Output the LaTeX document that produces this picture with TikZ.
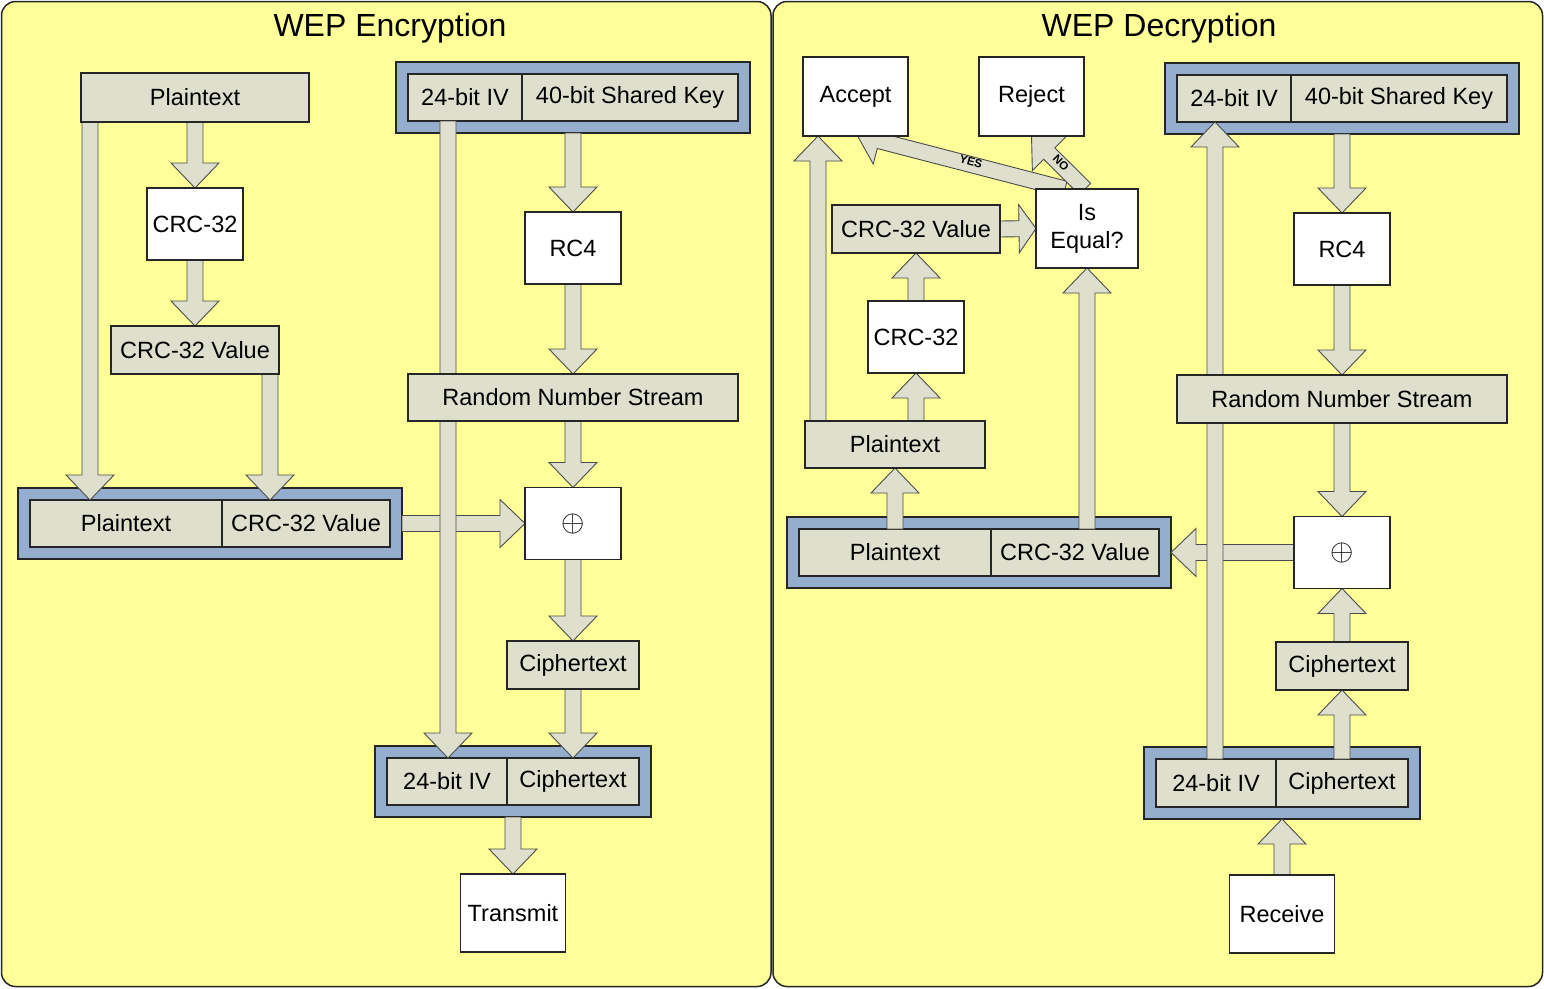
\documentclass[tikz,border=0pt]{standalone}
\usepackage{fontspec}
\usepackage{graphicx}
\setmainfont{Liberation Sans}
\usetikzlibrary{calc}
\definecolor{bgy}{RGB}{255,255,153}
\definecolor{beige}{RGB}{223,223,206}
\definecolor{frameblue}{RGB}{149,174,205}
\tikzset{
 box/.style={draw=black!85, line width=1.1pt, fill=beige, inner sep=0pt, outer sep=0pt, font=\fontsize{23.5}{28}\selectfont},
 wbox/.style={box, fill=white},
 fbox/.style={draw=black!85, line width=1.1pt, fill=frameblue, inner sep=0pt, outer sep=0pt},
 sz/.style 2 args={minimum width=#1pt, minimum height=#2pt},
 arr/.style={draw=black!70, line width=0.9pt, fill=beige, line join=miter},
 panel/.style={draw=black!85, line width=1.5pt, fill=bgy, rounded corners=14pt},
 ttl/.style={font=\fontsize{32}{38}\selectfont},
 lbl/.style={font=\bfseries\fontsize{11.5}{13}\selectfont, inner sep=0pt}
}
\newcommand\xorsign{{\fontsize{10}{12}\selectfont\scalebox{3}{$\oplus$}}}
\newcommand\barrow[3][25pt]{%
 \coordinate (bas) at (#2);
 \coordinate (bae) at (#3);
 \coordinate (bah) at ($(bae)!#1!(bas)$);
 \draw[arr] ($(bas)!8pt!90:(bae)$) -- ($(bah)!8pt!90:(bae)$) -- ($(bah)!24pt!90:(bae)$) -- (bae)
   -- ($(bah)!24pt!-90:(bae)$) -- ($(bah)!8pt!-90:(bae)$) -- ($(bas)!8pt!-90:(bae)$) -- cycle;}
\begin{document}
\begin{tikzpicture}[x=1pt,y=-1pt]
\useasboundingbox (0,0) rectangle (1544,988);
\draw[panel] (1.5,1.5) rectangle (771,986.5);
\draw[panel] (773,1.5) rectangle (1542.5,986.5);
\node[ttl] (t1) at (390,28) {WEP Encryption};
\node[ttl] (t2) at (1159,28) {WEP Decryption};

% ---------------- left: frames
\node[fbox, sz={384}{71}] (lf1) at (210,523.5) {};
\node[box, sz={192}{47}] (lf1a) at (126,523.5) {Plaintext};
\node[box, sz={168}{47}] (lf1b) at (306,523.5) {CRC-32 Value};
\node[fbox, sz={354}{71}] (lk) at (573,97.5) {};
\node[box, sz={114}{47}] (lka) at (465,97.5) {24-bit IV};
\node[box, sz={216}{47}] (lkb) at (630,97.5) {40-bit Shared Key};
\node[fbox, sz={276}{71}] (lf2) at (513,781.5) {};
\node[box, sz={120}{47}] (lf2a) at (447,781.5) {24-bit IV};
\node[box, sz={132}{47}] (lf2b) at (573,781.5) {Ciphertext};

% ---------------- right: frames
\node[fbox, sz={354}{71}] (rk) at (1342,98.5) {};
\node[box, sz={114}{47}] (rka) at (1234,98.5) {24-bit IV};
\node[box, sz={216}{47}] (rkb) at (1399,98.5) {40-bit Shared Key};
\node[fbox, sz={276}{72}] (rf2) at (1282,783) {};
\node[box, sz={120}{48}] (rf2a) at (1216,783) {24-bit IV};
\node[box, sz={132}{48}] (rf2b) at (1342,783) {Ciphertext};
\node[fbox, sz={384}{71}] (rf1) at (979,552.5) {};
\node[box, sz={192}{47}] (rf1a) at (895,552.5) {Plaintext};
\node[box, sz={168}{47}] (rf1b) at (1075,552.5) {CRC-32 Value};

% ---------------- box positions
\path
 (195,97.5) coordinate (plp1) (195,224) coordinate (plcrc) (195,350) coordinate (plcv)
 (573,248) coordinate (plrc4) (573,397.5) coordinate (plrns) (573,523.5) coordinate (plxor)
 (573,665) coordinate (plct) (513,913) coordinate (pltx)
 (855.5,96.5) coordinate (pracc) (1031.5,96.5) coordinate (prrej)
 (1342,249) coordinate (prrc4) (1342,399) coordinate (prrns) (1342,552.5) coordinate (prxor)
 (1342,666) coordinate (prct) (1282,914) coordinate (prrcv)
 (916,229) coordinate (prcv) (1087,228.5) coordinate (preq) (916,337) coordinate (prcrc)
 (895,444.5) coordinate (prpt);
% boxes (outline shapes first, used as arrow anchors)
\path
 node[box, sz={228}{49}] (lp1) at (plp1) {}
 node[wbox, sz={96}{72}] (lcrc) at (plcrc) {}
 node[box, sz={168}{48}] (lcv) at (plcv) {}
 node[wbox, sz={96}{72}] (lrc4) at (plrc4) {}
 node[box, sz={330}{47}] (lrns) at (plrns) {}
 node[wbox, sz={96}{72}] (lxor) at (plxor) {}
 node[box, sz={132}{48}] (lct) at (plct) {}
 node[wbox, sz={105}{78}] (ltx) at (pltx) {}
 node[wbox, sz={105}{79}] (racc) at (pracc) {}
 node[wbox, sz={105}{79}] (rrej) at (prrej) {}
 node[wbox, sz={96}{72}] (rrc4) at (prrc4) {}
 node[box, sz={330}{48}] (rrns) at (prrns) {}
 node[wbox, sz={96}{72}] (rxor) at (prxor) {}
 node[box, sz={132}{48}] (rct) at (prct) {}
 node[wbox, sz={105}{78}] (rrcv) at (prrcv) {}
 node[box, sz={168}{48}] (rcv) at (prcv) {}
 node[wbox, sz={102}{79}] (req) at (preq) {}
 node[wbox, sz={96}{72}] (rcrc) at (prcrc) {}
 node[box, sz={180}{47}] (rpt) at (prpt) {};

% ---------------- left arrows
\barrow{lp1.south}{lcrc.north}
\barrow{lcrc.south}{lcv.north}
\barrow{$(lp1.south west)+(9,0)$}{$(lf1a.north west)+(60,0)$}
\barrow{$(lcv.south east)+(-9,0)$}{$(lf1b.north west)+(48,0)$}
\barrow{lf1.east}{lxor.west}
\barrow{lk.south}{lrc4.north}
\barrow{lrc4.south}{lrns.north}
\barrow{lrns.south}{lxor.north}
\barrow{lxor.south}{lct.north}
\barrow{lct.south}{lf2b.north}
\barrow{lf2.south}{ltx.north}
\barrow{$(lka.south west)+(40,0)$}{$(lf2a.north west)+(61,0)$}

% ---------------- right arrows
\barrow{rrcv.north}{rf2.south}
\barrow{rf2b.north}{rct.south}
\barrow{rct.north}{rxor.south}
\barrow{rrns.south}{rxor.north}
\barrow{rrc4.south}{rrns.north}
\barrow{rk.south}{rrc4.north}
\barrow{rxor.west}{rf1.east}
\barrow{$(rf2a.north west)+(59,0)$}{$(rka.south west)+(38,0)$}
\barrow{$(rf1b.north west)+(96,0)$}{req.south}
\barrow{rf1a.north}{rpt.south}
\barrow{$(rpt.north west)+(111,0)$}{rcrc.south}
\barrow{rcrc.north}{rcv.south}
\barrow{$(rpt.north west)+(13,0)$}{$(racc.south west)+(15,0)$}
\barrow[17pt]{rcv.east}{req.west}
\barrow[23pt]{$(req.north west)+(29,0)$}{$(racc.south)+(1.5,-1)$}
\barrow{$(req.north west)+(49,0)$}{rrej.south}
\node[lbl, rotate=-14.5] (yes) at (971,162) {YES};
\node[lbl, rotate=-45] (no) at (1061,163) {NO};

% ---------------- boxes on top
\path
 node[box, sz={228}{49}] at (plp1) {Plaintext}
 node[wbox, sz={96}{72}] at (plcrc) {CRC-32}
 node[box, sz={168}{48}] at (plcv) {CRC-32 Value}
 node[wbox, sz={96}{72}] at (plrc4) {RC4}
 node[box, sz={330}{47}] at (plrns) {Random Number Stream}
 node[wbox, sz={96}{72}] at (plxor) {\xorsign}
 node[box, sz={132}{48}] at (plct) {Ciphertext}
 node[wbox, sz={105}{78}] at (pltx) {Transmit}
 node[wbox, sz={105}{79}] at (pracc) {Accept}
 node[wbox, sz={105}{79}] at (prrej) {Reject}
 node[wbox, sz={96}{72}] at (prrc4) {RC4}
 node[box, sz={330}{48}] at (prrns) {Random Number Stream}
 node[wbox, sz={96}{72}] at (prxor) {\xorsign}
 node[box, sz={132}{48}] at (prct) {Ciphertext}
 node[wbox, sz={105}{78}] at (prrcv) {Receive}
 node[box, sz={168}{48}] at (prcv) {CRC-32 Value}
 node[wbox, sz={102}{79}, align=center] at (preq) {Is\\Equal?}
 node[wbox, sz={96}{72}] at (prcrc) {CRC-32}
 node[box, sz={180}{47}] at (prpt) {Plaintext};
\end{tikzpicture}
\end{document}
